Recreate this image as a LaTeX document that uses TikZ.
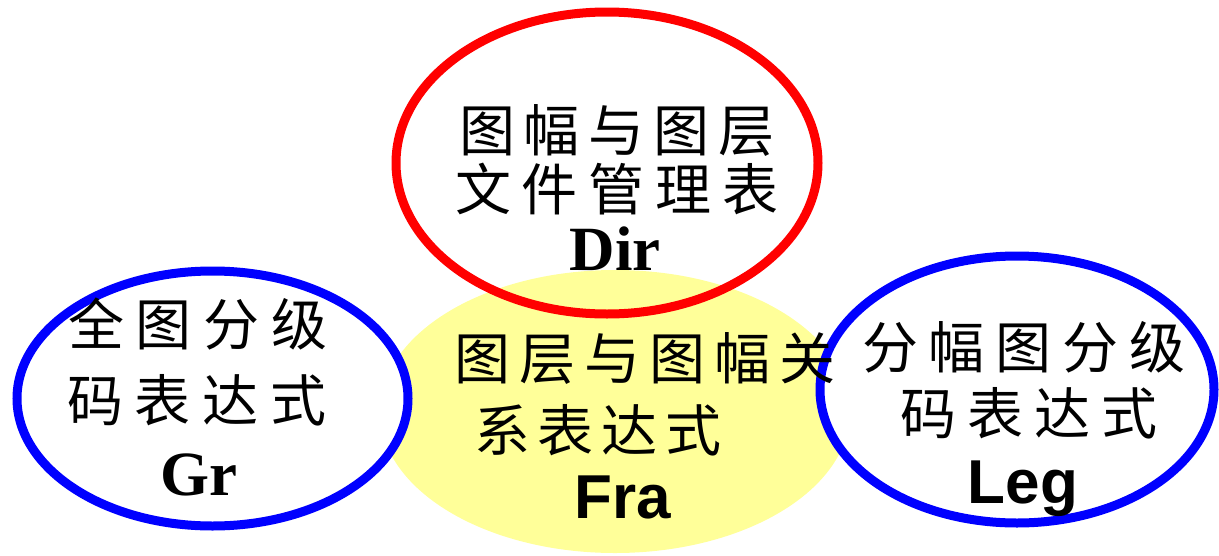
\documentclass[tikz,border=0pt]{standalone}
\usepackage{fontspec}
\setmainfont{Liberation Serif}
\newfontfamily\cjk{Noto Sans CJK SC}
\newfontfamily\arialfont{Liberation Sans}
\usetikzlibrary{shapes.geometric}
\definecolor{lightyellow}{RGB}{255,255,153}
\definecolor{pureblue}{RGB}{0,0,255}
\definecolor{purered}{RGB}{255,0,0}
\newdimen\cjkgap
\newcommand\G{\hspace{\cjkgap}}
\tikzset{
  oval/.style={ellipse, inner sep=0pt, outer sep=0pt, line width=9pt},
  cjktext/.style={font=\cjk\fontsize{56pt}{56pt}\selectfont, inner sep=0pt},
  sertext/.style={font=\bfseries\fontsize{63pt}{63pt}\selectfont, inner sep=0pt, anchor=base},
  santext/.style={font=\arialfont\bfseries\fontsize{62pt}{62pt}\selectfont, inner sep=0pt, anchor=base}
}
\begin{document}
\begin{tikzpicture}[x=1pt,y=-1pt]
\useasboundingbox (0,0) rectangle (1219,555);
% shapes
\node[oval, fill=lightyellow, minimum width=470pt, minimum height=283pt] (fra) at (615,411.5) {};
\node[oval, draw=purered, minimum width=422pt, minimum height=302pt] (dir) at (607,163) {};
\node[oval, draw=pureblue, fill=white, minimum width=391pt, minimum height=255pt] (gr) at (212.5,398.5) {};
\node[oval, draw=pureblue, fill=white, minimum width=394pt, minimum height=267pt] (leg) at (1017,389.5) {};
% Dir texts
\node[cjktext] (d1) at (617,130) {\cjkgap=9pt 图\G{}幅\G{}与\G{}图\G{}层};
\node[cjktext] (d2) at (617,189) {\cjkgap=11pt 文\G{}件\G{}管\G{}理\G{}表};
\node[sertext] (d3) at (615,270) {Dir};
% Gr texts
\node[cjktext] (g1) at (198,324) {\cjkgap=12pt 全\G{}图\G{}分\G{}级};
\node[cjktext] (g2) at (197,400) {\cjkgap=12pt 码\G{}表\G{}达\G{}式};
\node[sertext] (g3) at (199,495) {Gr};
% Leg texts
\node[cjktext] (l1) at (1024,347) {\cjkgap=11pt 分\G{}幅\G{}图\G{}分\G{}级};
\node[cjktext] (l2) at (1029,413) {\cjkgap=11pt 码\G{}表\G{}达\G{}式};
\node[santext] (l3) at (1023,503) {Leg};
% Fra texts
\node[cjktext] (f1) at (645,358) {\cjkgap=9pt 图\G{}层\G{}与\G{}图\G{}幅\G{}关};
\node[cjktext] (f2) at (598,430) {\cjkgap=8pt 系\G{}表\G{}达\G{}式};
\node[santext] (f3) at (623,518) {Fra};
\end{tikzpicture}
\end{document}
